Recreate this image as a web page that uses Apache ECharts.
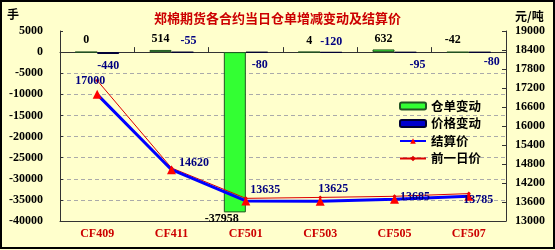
<!DOCTYPE html>
<html><head><meta charset="utf-8">
<script src="https://cdn.jsdelivr.net/npm/echarts@6/dist/echarts.min.js"></script>
<style>html,body{margin:0;padding:0;background:#FFFFCC;}#c{width:555px;height:250px;}</style>
</head><body><div id="c"></div>
<script>
const categories = ['CF409','CF411','CF501','CF503','CF505','CF507'];
const warrantChange = [0, 514, -37958, 4, 632, -42];
const priceChange = [-440, -55, -80, -120, -95, -80];
const settlePrice = [17000, 14620, 13635, 13625, 13685, 13785];
const prevPrice = [17440, 14675, 13715, 13745, 13780, 13865];
const leftTicks = {min: -40000, max: 5000, interval: 5000};
const rightTicks = {min: 13000, max: 19000, interval: 600};

const NUM = 'Liberation Serif, Times New Roman, serif';
const CJK = 'Noto Sans CJK SC, sans-serif';

const greenLabelCfg = [
  {position:'top', offset:[0,-1]},
  {position:'top', offset:[0,0]},
  {position:'bottom', offset:[-13,-4]},
  {position:'top', offset:[0,0]},
  {position:'top', offset:[0,0]},
  {position:'top', offset:[-5,-1]}
];
const blueLabelCfg = [
  {position:'bottom', offset:[0,1]},
  {position:'top', offset:[6,0]},
  {position:'bottom', offset:[3,1]},
  {position:'top', offset:[0,1]},
  {position:'bottom', offset:[12,1]},
  {position:'bottom', offset:[12,-2]}
];
const settleLabelCfg = [
  {position:'top', offset:[-7,2]},
  {position:'right', offset:[-2,-7]},
  {position:'right', offset:[-5,-11]},
  {position:'top', offset:[13,3]},
  {position:'right', offset:[-4,-2]},
  {position:'right', offset:[-15,4]}
];

const plain = v => String(v);

const chart = echarts.init(document.getElementById('c'), null, {renderer:'canvas'});
chart.setOption({
  backgroundColor: '#FFFFCC',
  animation: false,
  title: {
    text: '郑棉期货各合约当日仓单增减变动及结算价',
    left: 'center', top: 7,
    textStyle: {fontFamily: CJK, fontSize: 13, fontWeight: 'bold', color: '#CC0000',
      textShadowColor: '#777', textShadowOffsetX: 1, textShadowOffsetY: 1, textShadowBlur: 0}
  },
  graphic: [
    {type:'rect', shape:{x:1, y:1, width:553, height:247}, style:{fill:'none', stroke:'#000', lineWidth:2}, z:100},
    {type:'text', left: 7, top: 8, style:{text:'手', font:'bold 12px ' + CJK, fill:'#000'}},
    {type:'text', left: 515, top: 10, style:{text:'元/吨', font:'bold 12px ' + CJK, fill:'#000'}}
  ],
  legend: {
    orient: 'vertical', left: 394, top: 94,
    itemWidth: 26, itemHeight: 7, itemGap: 3.5,
    textStyle: {fontFamily: CJK, fontSize: 12.5, fontWeight: 'bold', color: '#000', lineHeight: 14},
    data: ['仓单变动','价格变动','结算价','前一日价']
  },
  grid: {left: 60, right: 49, top: 31, bottom: 29, containLabel: false},
  xAxis: [
    {type:'category', data: categories, position:'bottom',
      axisLine:{onZero:false, lineStyle:{color:'#333', width:1}},
      axisTick:{show:false},
      axisLabel:{color:'#CC0000', fontFamily: NUM, fontSize: 12, fontWeight:'bold', margin: 7},
      splitLine:{show:false}},
    {type:'category', data: categories, position:'top',
      axisLine:{onZero:true, onZeroAxisIndex:0, lineStyle:{color:'#333', width:1}},
      axisTick:{show:true, inside:false, length:5, lineStyle:{color:'#333'}},
      axisLabel:{show:false}, splitLine:{show:false}}
  ],
  yAxis: [
    {type:'value', min: leftTicks.min, max: leftTicks.max, interval: leftTicks.interval,
      axisLine:{show:true, lineStyle:{color:'#333'}},
      axisTick:{show:true, inside:true, length:3, lineStyle:{color:'#333'}},
      axisLabel:{color:'#000', fontFamily: NUM, fontSize: 12, fontWeight:'bold', margin: 17, formatter: plain},
      splitLine:{show:true, showMinLine:false, showMaxLine:false, lineStyle:{color:'#AAAAAA', type:[4,3], width:1}}},
    {type:'value', min: rightTicks.min, max: rightTicks.max, interval: rightTicks.interval,
      axisLine:{show:true, lineStyle:{color:'#333'}},
      axisTick:{show:true, inside:true, length:4, lineStyle:{color:'#333'}},
      axisLabel:{color:'#000', fontFamily: NUM, fontSize: 12, fontWeight:'bold', margin: 9, formatter: plain},
      splitLine:{show:false}}
  ],
  series: [
    {name:'仓单变动', type:'bar', xAxisIndex:0, yAxisIndex:0, barWidth:22, barGap:'0%',
      itemStyle:{color:'#33FF33', borderColor:'#225522', borderWidth:1},
      data: warrantChange.map((v,i)=>({value:v, label:Object.assign({show:true}, greenLabelCfg[i])})),
      label:{show:true, color:'#000', fontFamily: NUM, fontSize:12, fontWeight:'bold'}},
    {name:'价格变动', type:'bar', xAxisIndex:0, yAxisIndex:0, barWidth:22, barGap:'0%',
      itemStyle:{color:'#0000CC', borderColor:'#000033', borderWidth:1},
      data: priceChange.map((v,i)=>({value:v, label:Object.assign({show:true}, blueLabelCfg[i])})),
      label:{show:true, color:'#000080', fontFamily: NUM, fontSize:12, fontWeight:'bold'}},
    {name:'结算价', type:'line', xAxisIndex:0, yAxisIndex:1, z:5,
      lineStyle:{color:'#0000FF', width:3}, itemStyle:{color:'#FF0000'},
      symbol:'triangle', symbolSize:9, showSymbol:true,
      data: settlePrice.map((v,i)=>({value:v, label:Object.assign({show:true}, settleLabelCfg[i])})),
      label:{show:true, color:'#000080', fontFamily: NUM, fontSize:12, fontWeight:'bold'}},
    {name:'前一日价', type:'line', xAxisIndex:0, yAxisIndex:1, z:4,
      lineStyle:{color:'#DD0000', width:1}, itemStyle:{color:'#DD0000'},
      symbol:'diamond', symbolSize:4, showSymbol:true,
      data: prevPrice}
  ]
});
</script></body></html>
